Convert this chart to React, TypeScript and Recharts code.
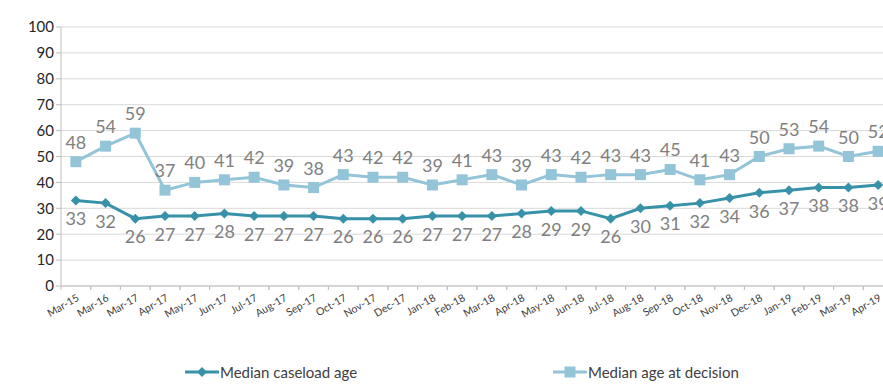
import React from 'react';
import { LineChart, Line, XAxis, YAxis, CartesianGrid, LabelList, Legend } from 'recharts';

const months = [
  'Mar-15', 'Mar-16', 'Mar-17', 'Apr-17', 'May-17', 'Jun-17', 'Jul-17', 'Aug-17', 'Sep-17', 'Oct-17',
  'Nov-17', 'Dec-17', 'Jan-18', 'Feb-18', 'Mar-18', 'Apr-18', 'May-18', 'Jun-18', 'Jul-18', 'Aug-18',
  'Sep-18', 'Oct-18', 'Nov-18', 'Dec-18', 'Jan-19', 'Feb-19', 'Mar-19', 'Apr-19',
];
const caseloadAge = [33, 32, 26, 27, 27, 28, 27, 27, 27, 26, 26, 26, 27, 27, 27, 28, 29, 29, 26, 30, 31, 32, 34, 36, 37, 38, 38, 39];
const decisionAge = [48, 54, 59, 37, 40, 41, 42, 39, 38, 43, 42, 42, 39, 41, 43, 39, 43, 42, 43, 43, 45, 41, 43, 50, 53, 54, 50, 52];
const yTicks = [0, 10, 20, 30, 40, 50, 60, 70, 80, 90, 100];

const data = months.map((m, i) => ({ month: m, caseload: caseloadAge[i], decision: decisionAge[i] }));

const W = 883;
const H = 385;
// the original plot runs a little past the right edge of the picture
const CHART_W = 893;
const LEFT = 61;
const RIGHT = 0;
const FONT = 'Lato, "Open Sans", sans-serif';
const DARK = '#3791a8';
const LIGHT = '#93c4d8';
const BAND = (CHART_W - LEFT - RIGHT) / months.length;

const Diamond = (props: any) => {
  const { cx, cy } = props;
  if (cx == null || cy == null) return null;
  const r = 5;
  return <polygon points={`${cx},${cy - r} ${cx + r},${cy} ${cx},${cy + r} ${cx - r},${cy}`} fill={DARK} />;
};

const Square = (props: any) => {
  const { cx, cy } = props;
  if (cx == null || cy == null) return null;
  const s = 11;
  return <rect x={cx - s / 2} y={cy - s / 2} width={s} height={s} fill={LIGHT} />;
};

const MonthTick = (props: any) => {
  const { x, y, payload } = props;
  return (
    <g>
      <line x1={x - BAND / 2} y1={y - 8} x2={x - BAND / 2} y2={y - 4} stroke="#bfbfbf" />
      <line x1={x + BAND / 2} y1={y - 8} x2={x + BAND / 2} y2={y - 4} stroke="#bfbfbf" />
      <text
        x={x + 4}
        y={y + 6}
        textAnchor="end"
        transform={`rotate(-30, ${x + 4}, ${y + 6})`}
        fontSize={10.5}
        fill="#404040"
        fontFamily={FONT}
      >
        {payload.value}
      </text>
    </g>
  );
};

const LegendContent = () => (
  <div style={{ position: 'relative', width: W, height: 20, fontFamily: FONT, fontSize: 15, color: '#404040' }}>
    <div style={{ position: 'absolute', left: 185, top: 0, display: 'flex', alignItems: 'center' }}>
      <svg width={34} height={14}>
        <line x1={0} y1={7} x2={34} y2={7} stroke={DARK} strokeWidth={3} />
        <polygon points="17,2 22,7 17,12 12,7" fill={DARK} />
      </svg>
      <span style={{ marginLeft: 1 }}>Median caseload age</span>
    </div>
    <div style={{ position: 'absolute', left: 553, top: 0, display: 'flex', alignItems: 'center' }}>
      <svg width={34} height={14}>
        <line x1={0} y1={7} x2={34} y2={7} stroke={LIGHT} strokeWidth={3} />
        <rect x={11.5} y={1.5} width={11} height={11} fill={LIGHT} />
      </svg>
      <span style={{ marginLeft: 1 }}>Median age at decision</span>
    </div>
  </div>
);

export default function App() {
  return (
    <div style={{ position: 'absolute', left: 0, top: 0, width: W, height: H, overflow: 'hidden', background: '#fff' }}>
      <LineChart width={CHART_W} height={H} data={data} margin={{ top: 27, right: RIGHT, left: 0, bottom: 0 }}>
        <CartesianGrid vertical={false} stroke="#d9d9d9" />
        <XAxis
          dataKey="month"
          interval={0}
          tickLine={false}
          axisLine={{ stroke: '#bfbfbf' }}
          tick={<MonthTick />}
          padding={{ left: BAND / 2, right: BAND / 2 }}
          height={79}
        />
        <YAxis
          domain={[0, 100]}
          ticks={yTicks}
          width={LEFT}
          axisLine={{ stroke: '#bfbfbf' }}
          tickLine={{ stroke: '#bfbfbf' }}
          tickSize={5}
          tick={{ fontSize: 15, fill: '#262626', fontFamily: FONT }}
        />
        <Legend
          content={<LegendContent />}
          wrapperStyle={{ position: 'absolute', left: 0, top: 363, width: W }}
        />
        <Line
          type="linear"
          dataKey="decision"
          name="Median age at decision"
          stroke={LIGHT}
          strokeWidth={3}
          dot={<Square />}
          activeDot={false}
          isAnimationActive={false}
        >
          <LabelList dataKey="decision" position="top" offset={13} fontSize={18} fill="#808080" fontFamily={FONT} />
        </Line>
        <Line
          type="linear"
          dataKey="caseload"
          name="Median caseload age"
          stroke={DARK}
          strokeWidth={3}
          dot={<Diamond />}
          activeDot={false}
          isAnimationActive={false}
        >
          <LabelList dataKey="caseload" position="bottom" offset={12} fontSize={18} fill="#808080" fontFamily={FONT} />
        </Line>
      </LineChart>
    </div>
  );
}
